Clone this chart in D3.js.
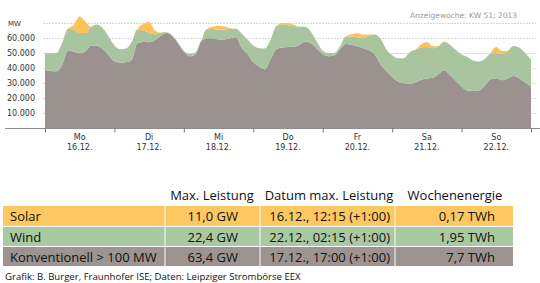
<!DOCTYPE html>
<html>
<head>
<meta charset="utf-8">
<title>KW 51 2013</title>
<script src="https://d3js.org/d3.v7.min.js"></script>
<style>
  body { margin: 0; background: #fff; }
  .axis text { font: 8px "DejaVu Sans", sans-serif; fill: #333; }
  .tbl { font-family: "Open Sans", sans-serif; fill: #111; }
</style>
</head>
<body>
<div id="chart"></div>
<script>
// Stunden ab Mo 16.12. 00:00, alle 2 h
var hours = d3.range(0, 169, 2);

// Konventionell > 100 MW (MW)
var konv = [
  38700, 38000, 37800, 42500, 51500, 50800, 49800, 51200, 55000, 54800, 52500, 48500,
  44500, 43600, 43800, 45500, 56900, 57300, 57200, 58500, 61500, 63300, 61200, 56500,
  50800, 47800, 49000, 57800, 59800, 59800, 59000, 59000, 59800, 60500, 53500, 49700,
  44000, 41000, 39200, 46000, 52500, 53600, 54000, 54200, 55500, 57600, 56500, 52800,
  49300, 47800, 48500, 52500, 56000, 55500, 54500, 53200, 51800, 49000, 42500, 38000,
  34200, 31000, 29800, 29500, 30200, 32200, 33000, 33500, 36000, 38500, 35300, 31500,
  27500, 25000, 24700, 25000, 28000, 32500, 33100, 31800, 33000, 34600, 33000, 30300,
  27500
];

// Wind (MW)
var wind = [
  11100, 11800, 12200, 14500, 14800, 14700, 13500, 12100, 12500, 14200, 14000, 12500,
  10500, 8900, 9200, 12000, 8900, 7700, 6300, 4000, 2000, 500, 600, 500,
  700, 1700, 1500, 700, 6000, 6200, 6500, 6600, 6200, 5700, 9500, 9300,
  11000, 12200, 13800, 13000, 15500, 15400, 14500, 13800, 12000, 9900, 7500, 4700,
  2200, 2200, 1500, 2000, 5000, 5500, 6000, 6800, 9700, 13300, 17000, 14500,
  14300, 15500, 16700, 21000, 22000, 21500, 21000, 19700, 18500, 19000, 20200, 20500,
  21500, 22400, 20300, 19300, 18000, 17000, 16900, 17500, 18500, 20100, 20500, 19700,
  18000
];

// Solar (MW)
var solar = [
  0, 0, 0, 0, 0, 3200, 11000, 7600, 0, 0, 0, 0,
  0, 0, 0, 0, 0, 4500, 7200, 2500, 0, 0, 0, 0,
  0, 0, 0, 0, 0, 1500, 2700, 2000, 500, 0, 0, 0,
  0, 0, 0, 0, 0, 1000, 1500, 800, 0, 0, 0, 0,
  0, 0, 0, 0, 0, 1500, 2600, 2200, 800, 0, 0, 0,
  0, 0, 0, 0, 0, 2000, 3400, 1500, 0, 0, 0, 0,
  0, 0, 0, 0, 0, 500, 4000, 2000, 0, 0, 0, 0,
  0
];

var dayNames = ["Mo", "Di", "Mi", "Do", "Fr", "Sa", "So"];
var dayDates = ["16.12.", "17.12.", "18.12.", "19.12.", "20.12.", "21.12.", "22.12."];
var yTicks = [10000, 20000, 30000, 40000, 50000, 60000];
var gridTicks = [10000, 20000, 30000, 40000, 50000, 60000, 70000];

var keys = ["konv", "wind", "solar"];
var colors = { konv: "#9b928f", wind: "#a9c5a0", solar: "#fcc15a" };

// Tabelle
var tblHeader = ["Max. Leistung", "Datum max. Leistung", "Wochenenergie"];
var tblNames = ["Solar", "Wind", "Konventionell > 100 MW"];
var tblMax = ["11,0 GW", "22,4 GW", "63,4 GW"];
var tblDate = ["16.12., 12:15 (+1:00)", "22.12., 02:15 (+1:00)", "17.12., 17:00 (+1:00)"];
var tblEnergy = ["0,17 TWh", "1,95 TWh", "7,7 TWh"];
var rowColors = ["#fdc862", "#aac8a1", "#9d9491"];

var data = hours.map(function(h, i) {
  return { h: h, konv: konv[i], wind: wind[i], solar: solar[i] };
});

var W = 540, H = 283;
var svg = d3.select("#chart").append("svg")
  .attr("width", W).attr("height", H);

var x = d3.scaleLinear().domain([0, 168]).range([45, 531]);
var y = d3.scaleLinear().domain([0, 70000]).range([128, 23]);

// Gitter
svg.append("g").selectAll("line")
  .data(gridTicks).enter().append("line")
  .attr("x1", 43).attr("x2", 536)
  .attr("y1", function(d) { return y(d) + 0.5; })
  .attr("y2", function(d) { return y(d) + 0.5; })
  .attr("stroke", "#d6d6d6")
  .attr("stroke-dasharray", "2,1");

var series = d3.stack().keys(keys)(data);

var area = d3.area()
  .x(function(d) { return x(d.data.h); })
  .y0(function(d) { return y(d[0]); })
  .y1(function(d) { return y(d[1]); })
  .curve(d3.curveMonotoneX);

svg.append("g").selectAll("path")
  .data(series).enter().append("path")
  .attr("fill", function(d) { return colors[d.key]; })
  .attr("d", area);

// Y-Achse (nur Beschriftung)
var yAxis = svg.append("g").attr("class", "axis")
  .attr("transform", "translate(35,0)")
  .call(d3.axisLeft(y).tickValues(yTicks).tickSize(0).tickPadding(0)
    .tickFormat(function(d) { return d3.format(",")(d).replace(/,/g, "."); }));
yAxis.select(".domain").remove();

svg.append("text")
  .attr("x", 8).attr("y", 26)
  .style("font", "7px 'DejaVu Sans', sans-serif").style("fill", "#333")
  .text("MW");

// X-Achse
svg.append("line")
  .attr("x1", 5).attr("x2", 540)
  .attr("y1", 128.5).attr("y2", 128.5)
  .attr("stroke", "#8c8c8c");

var xAxis = svg.append("g").attr("class", "axis")
  .attr("transform", "translate(0,128.5)")
  .call(d3.axisBottom(x).tickValues(d3.range(0, 169, 24)).tickSize(4).tickFormat(""));
xAxis.select(".domain").remove();
xAxis.selectAll("line").attr("stroke", "#777");

var dayLab = svg.append("g").attr("class", "axis")
  .selectAll("g").data(dayNames).enter().append("g")
  .attr("transform", function(d, i) { return "translate(" + x(i * 24 + 12) + ",0)"; });
dayLab.append("text").attr("y", 140).attr("text-anchor", "middle")
  .text(function(d) { return d; });
dayLab.append("text").attr("y", 150).attr("text-anchor", "middle")
  .text(function(d, i) { return dayDates[i]; });

svg.append("text")
  .attr("x", 517).attr("y", 18)
  .attr("text-anchor", "end")
  .style("font", "7.5px 'DejaVu Sans', sans-serif")
  .style("fill", "#9a9a9a")
  .text("Anzeigewoche: KW 51; 2013");

// Tabelle
var colX = [3, 165, 260, 395, 513];
var rowY = [206, 227, 247, 267];
var tbl = svg.append("g").attr("class", "tbl");

tbl.selectAll("text.head")
  .data(tblHeader).enter().append("text")
  .attr("class", "head")
  .attr("x", function(d, i) { return [212, 329, 455][i]; })
  .attr("y", 200)
  .attr("text-anchor", "middle")
  .style("font-size", "13px")
  .text(function(d) { return d; });

var rows = tbl.selectAll("g.row")
  .data(tblNames).enter().append("g")
  .attr("class", "row");

rows.append("rect")
  .attr("x", colX[0])
  .attr("y", function(d, i) { return rowY[i]; })
  .attr("width", colX[4] - colX[0])
  .attr("height", function(d, i) { return rowY[i + 1] - rowY[i] - 1; })
  .attr("fill", function(d, i) { return rowColors[i]; });

var cells = [tblNames, tblMax, tblDate, tblEnergy];
var cellX = [10, 238, 390, 495];
cells.forEach(function(col, c) {
  rows.append("text")
    .attr("x", cellX[c])
    .attr("y", function(d, i) { return rowY[i] + 14.5; })
    .attr("text-anchor", c === 0 ? "start" : "end")
    .style("font-size", "13px")
    .text(function(d, i) { return col[i]; });
});

tbl.selectAll("line.sep")
  .data(colX.slice(1, 4)).enter().append("line")
  .attr("class", "sep")
  .attr("x1", function(d) { return d; }).attr("x2", function(d) { return d; })
  .attr("y1", rowY[0]).attr("y2", rowY[3])
  .attr("stroke", "#fff").attr("stroke-width", 1);

svg.append("text")
  .attr("x", 5).attr("y", 280)
  .style("font", "9.6px 'Open Sans', sans-serif")
  .style("fill", "#111")
  .text("Grafik: B. Burger, Fraunhofer ISE; Daten: Leipziger Strombörse EEX");
</script>
</body>
</html>
